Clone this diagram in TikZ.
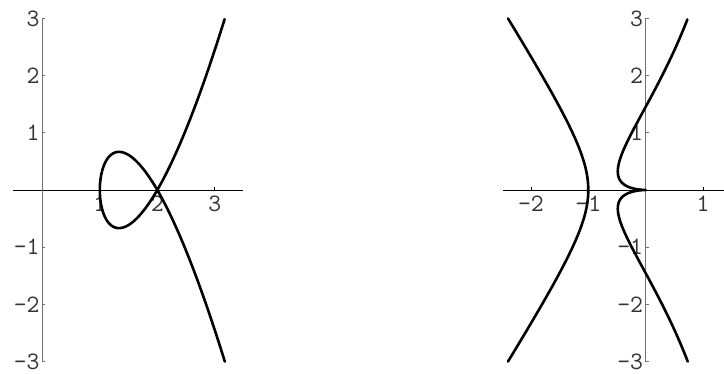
\documentclass[tikz,border=0pt]{standalone}
\begin{document}
\begin{tikzpicture}[x=1pt,y=1pt]
\tikzset{
  curve/.style={line width=2.6pt, line join=round, line cap=round, black},
  xax/.style={line width=0.8pt, black},
  yax/.style={line width=1pt, black!55},
  lab/.style={font=\fontsize{25}{25}\selectfont\ttfamily, inner sep=0pt, text=black!80}
}
\useasboundingbox (0,0) rectangle (724,374);
% ---------- left plot ----------
\begin{scope}[shift={(42.3pt,184pt)}, x=57.5pt, y=57.2pt]
  \draw[xax] (-0.515,0) -- (3.49,0);
  \draw[yax] (0,-3) -- (0,3);
  \foreach \i in {1,2,3} {
    \draw[xax] (\i,0) -- ++(0,3pt);
    \node[lab, anchor=north] (lx\i) at (\i,-6pt) {\i};
  }
  \foreach \j/\n/\s in {3/p3/3,2/p2/2,1/p1/1,-1/m1/\textendash1,-2/m2/\textendash2,-3/m3/\textendash3} {
    \draw[yax] (0,\j) -- ++(3pt,0);
    \node[lab, anchor=east] (ly\n) at (-2.5pt,\j) {\s};
  }
  \draw[curve] plot[domain=-1.4746:1.4746, samples=160, variable=\t]
    ({1+\t*\t}, {sqrt(3)*\t*(\t*\t-1)});
\end{scope}
% ---------- right plot ----------
\begin{scope}[shift={(645.7pt,184pt)}, x=57.4pt, y=57.2pt]
  \draw[xax] (-2.49,0) -- (1.37,0);
  \draw[yax] (0,-3) -- (0,3);
  \foreach \i/\n/\s in {-2/m2/\textendash2,-1/m1/\textendash1,1/p1/1} {
    \draw[xax] (\i,0) -- ++(0,3pt);
    \node[lab, anchor=north] (rx\n) at (\i,-6pt) {\s};
  }
  \foreach \j/\n/\s in {3/p3/3,2/p2/2,1/p1/1,-1/m1/\textendash1,-2/m2/\textendash2,-3/m3/\textendash3} {
    \draw[yax] (0,\j) -- ++(3pt,0);
    \node[lab, anchor=east] (ry\n) at (-2.5pt,\j) {\s};
  }
  \draw[curve] plot[domain=-3:3, samples=120, variable=\t]
    ({-0.4-sqrt(0.36+0.4044*\t*\t)}, {\t});
  \draw[curve] plot[domain=-1.44225:1.44225, samples=200, variable=\u]
    ({-3.823*\u*\u + 5.129*abs(\u)*\u*\u - 1.549*\u*\u*\u*\u}, {\u*\u*\u});
\end{scope}
\end{tikzpicture}
\end{document}
